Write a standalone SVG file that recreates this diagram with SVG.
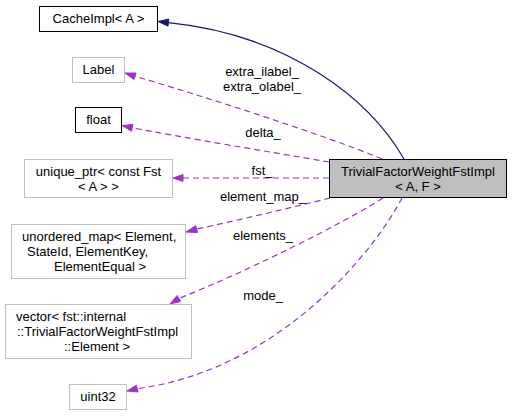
<svg xmlns="http://www.w3.org/2000/svg" width="513" height="416" viewBox="0 0 513 416">
<style>
text{font-family:"Liberation Sans",Arial,sans-serif;font-size:13px;fill:#000}
.m{text-anchor:middle}
.s{text-anchor:start}
.nb{fill:#fff;stroke:#000;stroke-width:1}
.ng{fill:#fff;stroke:#bfbfbf;stroke-width:1}
.main{fill:#bfbfbf;stroke:#000;stroke-width:1}
.e{fill:none;stroke:#9a32cd;stroke-width:1.2;stroke-dasharray:6,4}
.ea{fill:#9a32cd;stroke:#9a32cd;stroke-width:1}
.s1{fill:none;stroke:#191970;stroke-width:1.2}
.sa{fill:#191970;stroke:#191970;stroke-width:1}
</style>
<rect width="513" height="416" fill="#fff"/>
<g id="connectors">
<path class="s1" d="M404,159 C370,100 290,35 168.4,22.6"/>
<polygon class="sa" points="168.8,19.1 158,21.5 168,26.1"/>
<path class="e" d="M382,159 C330,137 200,95 135,76.3"/>
<polygon class="ea" points="136.1,73 125,73 133.9,79.6"/>
<path class="e" d="M329,162 C270,152 180,137 132.2,127.8"/>
<polygon class="ea" points="133,124.4 122,125.5 131.4,131.2"/>
<path class="e" d="M329,178 L183,178"/>
<polygon class="ea" points="183,174.5 173,178 183,181.5"/>
<path class="e" d="M330,198 C290,208 230,222 196.6,229.1"/>
<polygon class="ea" points="197.5,232.5 186,232 195.7,225.7"/>
<path class="e" d="M383,198 C340,225 250,270 178.9,298.5"/>
<polygon class="ea" points="180.7,301.5 170,304 177.1,295.5"/>
<path class="e" d="M402,198 C375,250 280,370 137.2,388.6"/>
<polygon class="ea" points="138,392 127,391 136.4,385.2"/>
<text class="m" x="262" y="76">extra_ilabel_</text>
<text class="m" x="262" y="91">extra_olabel_</text>
<text class="m" x="263" y="137">delta_</text>
<text class="m" x="262" y="175">fst_</text>
<text class="m" x="263" y="201">element_map_</text>
<text class="m" x="263" y="240">elements_</text>
<text class="m" x="263" y="300">mode_</text>
</g>
<g id="node-main">
<rect class="main" x="329.5" y="159.5" width="177" height="38"/>
<text class="m" x="418" y="176">TrivialFactorWeightFstImpl</text>
<text class="m" x="418" y="191">&lt; A, F &gt;</text>
</g>
<g id="node-cacheimpl">
<rect class="nb" x="39.5" y="6.5" width="118" height="25"/>
<text class="m" x="98.5" y="23">CacheImpl&lt; A &gt;</text>
</g>
<g id="node-label">
<rect class="ng" x="72.5" y="57.5" width="52" height="25"/>
<text class="m" x="98.5" y="74">Label</text>
</g>
<g id="node-float">
<rect class="nb" x="75.5" y="107.5" width="46" height="25"/>
<text class="m" x="98.5" y="124">float</text>
</g>
<g id="node-unique-ptr">
<rect class="ng" x="24.5" y="159.5" width="148" height="38"/>
<text class="m" x="98.5" y="176">unique_ptr&lt; const Fst</text>
<text class="m" x="98.5" y="191">&lt; A &gt; &gt;</text>
</g>
<g id="node-unordered-map">
<rect class="ng" x="11.5" y="224.5" width="174" height="54"/>
<text class="s" x="22" y="241">unordered_map&lt; Element,</text>
<text class="s" x="27" y="256">StateId, ElementKey,</text>
<text class="s" x="54" y="271">ElementEqual &gt;</text>
</g>
<g id="node-vector">
<rect class="ng" x="5.5" y="304.5" width="186" height="54"/>
<text class="s" x="16" y="321">vector&lt; fst::internal</text>
<text class="s" x="17" y="336">::TrivialFactorWeightFstImpl</text>
<text class="s" x="64" y="351">::Element &gt;</text>
</g>
<g id="node-uint32">
<rect class="ng" x="69.5" y="384.5" width="57" height="25"/>
<text class="m" x="98" y="401">uint32</text>
</g>
</svg>
